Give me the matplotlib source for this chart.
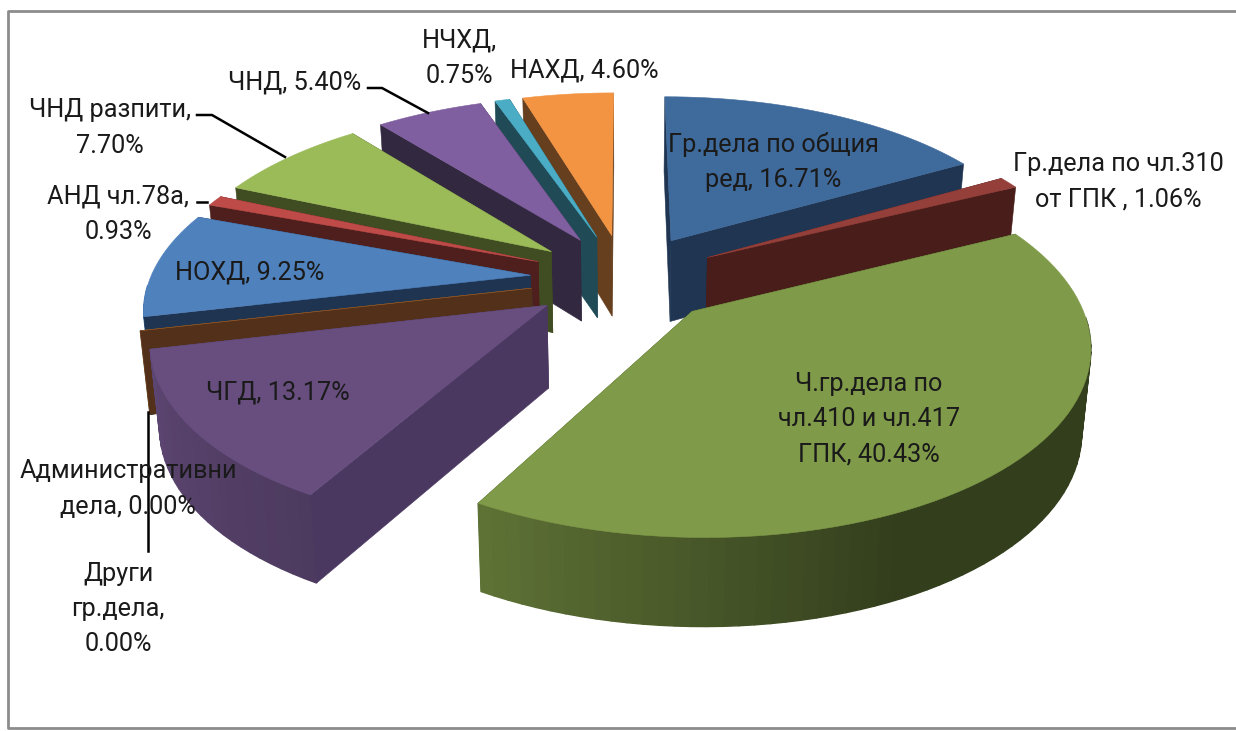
import numpy as np
import matplotlib
matplotlib.use("Agg")
import matplotlib.pyplot as plt
from matplotlib.colors import to_rgb
from matplotlib.patches import Polygon

# данни - ред като в диаграмата, по часовника от 12 ч.
values = [16.71, 1.06, 40.43, 13.17, 0.00, 0.00, 9.25, 0.93, 7.70, 5.40, 0.75, 4.60]
top_colors = ["#3F6A9C", "#953F3B", "#7F9A48", "#674E7F", "#2F7F95", "#B0672B",
              "#4F81BD", "#BE4B48", "#9BBB59", "#7F5F9F", "#4BACC6", "#F39442"]
cut_colors = ["#1F3552", "#481D1A", "#3A4A20", "#4A3860", "#1F4A56", "#52301A",
              "#1F3450", "#4F1F1D", "#404C22", "#322840", "#1F4A56", "#663F1E"]

label_texts = ["Гр.дела по общия\nред, 16.71%", "Гр.дела по чл.310\nот ГПК , 1.06%",
               "Ч.гр.дела по\nчл.410 и чл.417\nГПК, 40.43%", "ЧГД, 13.17%",
               "Административни\nдела, 0.00%", "Други\nгр.дела,\n0.00%",
               "НОХД, 9.25%", "АНД чл.78а,\n0.93%", "ЧНД разпити,\n7.70%",
               "ЧНД, 5.40%", "НЧХД,\n0.75%", "НАХД, 4.60%"]
label_pos = [(773, 162), (1118, 182), (869, 419), (278, 392), (128, 489), (118, 609),
             (250, 273), (118, 214), (110, 128), (295, 83), (459, 58), (584, 71)]
leaders = [[(197, 115), (212, 115), (285, 157)],
           [(368, 88), (382, 88), (428, 113)],
           [(197, 202), (207, 202)],
           [(148, 412), (148, 551)]]

# параметри на проекцията (пиксели)
cx, cy = 625, 278
sx, sy = 380, 178
persp = 0.16
explode = 0.25


def project(x, y):
    w = 1 + persp * y
    return cx + sx * x / w, cy - sy * y / w


def drop(px, py, y):
    # долната страна е малко по-навътре и по-ниска отпред
    return cx + (px - cx) * 0.98, py + 82 - 6 * y


def side_shade(theta):
    return np.interp(theta, [90, 155, 210, 260], [0.40, 0.40, 0.75, 0.92])


fig = plt.figure(figsize=(12.36, 7.31), dpi=100)
ax = fig.add_axes([0, 0, 1, 1])
ax.set_xlim(0, 1236)
ax.set_ylim(731, 0)
ax.axis("off")

# рамка
ax.plot([1236, 7.5, 7.5, 1236], [10.5, 10.5, 727.5, 727.5], color="#8C8C8C", lw=2)

total = sum(values)
ends = np.cumsum(values) / total * 360
starts = ends - np.array(values) / total * 360
mids = (starts + ends) / 2
order = np.argsort(-np.cos(np.radians(mids)))


def quad(pts, color, z, lw=0.4):
    ax.add_patch(Polygon(pts, closed=True, facecolor=color, edgecolor=color, lw=lw, zorder=z))


z = 2.0
for i in order:
    a0, a1, mid = starts[i], ends[i], mids[i]
    ax0 = explode * np.sin(np.radians(mid))
    ay0 = explode * np.cos(np.radians(mid))
    thetas = np.linspace(a0, a1, max(int((a1 - a0) / 2) + 2, 2))
    ox = ax0 + np.sin(np.radians(thetas))
    oy = ay0 + np.cos(np.radians(thetas))
    tx, ty = project(ox, oy)
    apex = project(ax0, ay0)
    bx, by = drop(tx, ty, oy)
    bapex = drop(apex[0], apex[1], ay0)
    cut = cut_colors[i]
    face0 = [apex, (tx[0], ty[0]), (bx[0], by[0]), bapex]
    face1 = [apex, (tx[-1], ty[-1]), (bx[-1], by[-1]), bapex]
    front0 = np.sin(np.radians(a0)) < 0
    front1 = np.sin(np.radians(a1)) > 0

    # скритите срязани страни отзад
    if not front0:
        quad(face0, cut, z)
        z += 0.001
    if not front1:
        quad(face1, cut, z)
        z += 0.001

    # външна дъга на ивици
    base = np.array(to_rgb(top_colors[i]))
    for k in np.argsort(-oy[:-1]):
        tm = (thetas[k] + thetas[k + 1]) / 2
        if np.cos(np.radians(tm)) > -0.05:
            continue
        col = tuple(base * side_shade(tm))
        quad([(tx[k], ty[k]), (tx[k + 1], ty[k + 1]), (bx[k + 1], by[k + 1]), (bx[k], by[k])], col, z, lw=1.0)
        z += 0.001

    # видимите срязани страни
    if front0:
        quad(face0, cut, z)
        z += 0.001
    if front1:
        quad(face1, cut, z)
        z += 0.001

    # горна страна
    ax.add_patch(Polygon(np.vstack([[apex], np.column_stack([tx, ty])]), closed=True,
                         facecolor=top_colors[i], edgecolor=top_colors[i], lw=0.4, zorder=z))
    z += 0.001

for pts in leaders:
    xs, ys = zip(*pts)
    ax.plot(xs, ys, color="black", lw=1.8, zorder=20)

for t, (x, y) in zip(label_texts, label_pos):
    ax.text(x, y, t, ha="center", va="center", family="Roboto", fontsize=18.2,
            color="#1A1A1A", linespacing=1.6, zorder=30)

fig.savefig("out.png", dpi=100)
